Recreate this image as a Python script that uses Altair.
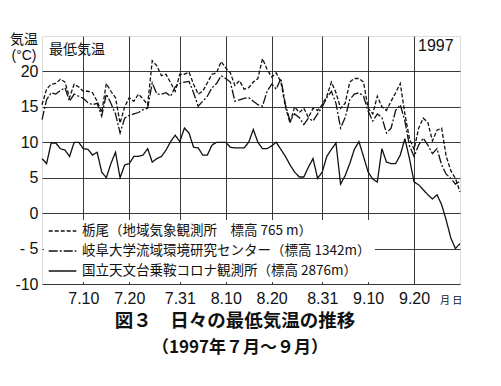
import altair as alt
import pandas as pd

# ---- data (daily minimum temperature, 1997-07-01 .. 1997-09-30) ----
DAYS = list(range(1, 93))

TOCHIO = [15.3, 17.5, 18.2, 18.3, 18.9, 18.5, 16.3, 18.2, 17.8, 17.2,
          17.2, 17.0, 15.8, 14.2, 18.3, 17.2, 16.3, 12.7, 15.0, 16.3,
          15.8, 16.8, 16.1, 15.3, 21.5, 20.8, 19.4, 19.6, 18.4, 17.2,
          19.6, 19.6, 19.9, 18.2, 16.8, 17.2, 18.4, 19.6, 19.8, 21.4,
          20.5, 19.8, 18.0, 18.7, 17.5, 17.7, 18.5, 19.0, 21.8, 20.3,
          19.2, 19.8, 18.5, 15.0, 12.7, 15.0, 14.2, 14.8, 13.5, 14.8,
          14.5, 15.3, 16.5, 18.5, 17.0, 14.8, 15.5, 18.5, 19.0, 19.0,
          18.5, 14.8, 14.0, 16.5, 15.0, 14.5, 15.8, 17.0, 18.3, 14.0,
          10.5, 9.0, 12.0, 13.4, 12.8, 10.2, 11.7, 12.0, 8.0, 6.0,
          4.9, 3.0]

GIFU = [13.2, 16.0, 17.0, 16.8, 17.3, 17.7, 15.8, 16.8, 16.5, 16.2,
        15.6, 15.3, 15.5, 13.7, 16.8, 15.5, 14.0, 11.3, 13.4, 13.8,
        14.0, 14.2, 14.6, 14.8, 18.4, 16.8, 16.8, 17.0, 16.5, 17.8,
        18.3, 18.5, 18.6, 17.0, 15.1, 15.8, 16.5, 17.7, 18.3, 19.4,
        19.0, 18.5, 15.8, 16.0, 16.2, 16.3, 15.8, 15.3, 15.1, 17.2,
        18.2, 17.5, 19.0, 15.3, 13.0, 14.0, 13.5, 12.5, 13.4, 13.0,
        14.0, 15.0, 16.3, 17.2, 15.5, 12.0, 13.5, 16.0, 16.8, 17.0,
        16.5, 14.4, 13.0, 14.0, 13.5, 11.3, 12.0, 14.5, 15.3, 13.0,
        9.5, 8.0, 9.6, 10.6, 9.6, 8.4, 9.1, 6.8, 5.5, 4.9,
        4.1, 4.5]

NORIKURA = [7.7, 7.0, 9.9, 9.9, 9.1, 8.9, 8.0, 10.0, 10.0, 9.1,
            9.0, 8.2, 8.6, 5.8, 5.0, 7.0, 8.6, 5.0, 6.8, 7.0,
            8.0, 8.0, 8.2, 9.1, 7.2, 7.7, 8.0, 8.9, 10.1, 11.0,
            10.1, 12.0, 11.3, 9.3, 9.2, 8.2, 8.2, 9.6, 10.0, 10.0,
            10.0, 9.3, 9.2, 9.2, 9.2, 10.0, 11.8, 10.0, 9.1, 9.1,
            9.5, 10.0, 9.0, 8.0, 6.8, 5.8, 5.1, 5.1, 6.5, 7.7,
            4.9, 5.8, 8.0, 9.0, 9.9, 4.1, 5.3, 7.0, 9.0, 10.1,
            8.0, 5.8, 4.8, 4.4, 9.1, 7.2, 7.0, 7.0, 8.2, 10.5,
            7.7, 4.4, 4.0, 3.3, 2.6, 2.0, 2.6, 1.2, -1.0, -3.5,
            -5.0, -4.3]

STATIONS = ["栃尾（地域気象観測所　標高 765 m）",
            "岐阜大学流域環境研究センター（標高 1342m）",
            "国立天文台乗鞍コロナ観測所（標高 2876m）"]
DASHES = [[4, 2], [9, 2, 2, 2], [1, 0]]

TICK_DAYS = [10, 20, 31, 41, 51, 62, 72, 82]
TICK_LABELS = ["7.10", "7.20", "7.31", "8.10", "8.20", "8.31", "9.10", "9.20"]
Y_TICKS = [-10, -5, 0, 5, 10, 15, 20]

rows = []
for name, series in zip(STATIONS, [TOCHIO, GIFU, NORIKURA]):
    for d, v in zip(DAYS, series):
        rows.append({"day": d, "temp": v, "station": name})
df = pd.DataFrame(rows)

W, H = 418, 248
JP = "Noto Sans CJK JP"
NUM = "Liberation Sans, Arial, sans-serif"
NARROW = "Liberation Sans Narrow, Liberation Sans, sans-serif"

xlab = "''"
for d, l in zip(reversed(TICK_DAYS), reversed(TICK_LABELS)):
    xlab = f"datum.value == {d} ? '{l}' : ({xlab})"

x_scale = alt.Scale(domain=[1, 92], nice=False, zero=False)
y_scale = alt.Scale(domain=[-10, 25], nice=False, zero=False)

base = alt.Chart(df)

lines = base.mark_line(color="#111", strokeWidth=1.3, strokeJoin="miter").encode(
    x=alt.X("day:Q", scale=x_scale,
            axis=alt.Axis(values=TICK_DAYS, labelExpr=xlab, title=None, grid=True,
                          gridColor="#222", gridWidth=0.9, tickSize=0, domain=False,
                          labelPadding=6, labelFontSize=16, labelFont=NUM,
                          labelColor="#111")),
    y=alt.Y("temp:Q", scale=y_scale,
            axis=alt.Axis(values=Y_TICKS,
                          labelExpr="datum.value == -5 ? '- 5' : '' + datum.value",
                          title=None,
                          grid=True, gridColor="#222", gridWidth=0.9, tickSize=0,
                          domain=False, labelPadding=4, labelFontSize=16,
                          labelFont=NUM, labelColor="#111")),
    strokeDash=alt.StrokeDash("station:N",
                              scale=alt.Scale(domain=STATIONS, range=DASHES),
                              legend=alt.Legend(title=None, orient="none",
                                                legendX=2, legendY=184,
                                                fillColor="white", padding=4,
                                                symbolType="stroke",
                                                symbolStrokeColor="#111",
                                                symbolStrokeWidth=1.4,
                                                symbolSize=760,
                                                clipHeight=14,
                                                labelFont=JP, labelFontSize=13.5,
                                                labelColor="#111", labelLimit=400,
                                                rowPadding=6, labelOffset=5)),
    order="day:Q",
)

one = alt.Data(values=[{}])


def txt(text, x, y, size, weight="normal", align="left", font=JP):
    return alt.Chart(one).mark_text(text=text, fontSize=size, font=font,
                                    fontWeight=weight, align=align,
                                    baseline="middle", color="#111").encode(
        x=alt.value(x), y=alt.value(y))


notes = [
    txt("気温", -18, 4, 14, align="center"),
    txt("(°C)", -18, 20, 14, align="center", font=NUM),
    txt("最低気温", 7, 14, 14),
    txt("1997", 376, 10, 16, font=NARROW),
    txt("月 日", 398, 265, 10),
    txt("図３　日々の最低気温の推移", 193, 285, 18.5, weight="bold", align="center"),
    txt("（1997年７月～９月）", 198, 312, 17, weight="bold", align="center"),
]

chart = alt.layer(lines, *notes).properties(
    width=W, height=H,
    autosize=alt.AutoSizeParams(type="none"),
    padding={"left": 34, "top": 28, "right": 33, "bottom": 90},
).configure_view(stroke="#111", strokeWidth=1.5).configure(background="white")

chart.save("out.html", embed_options={"renderer": "svg", "actions": False})
